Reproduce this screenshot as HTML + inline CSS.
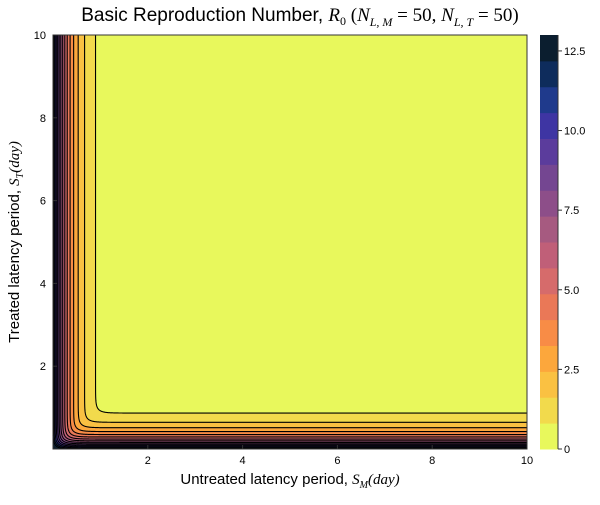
<!DOCTYPE html>
<html><head><meta charset="utf-8"><style>
body{margin:0;background:#fff;}
svg text{font-family:"Liberation Sans",sans-serif;}
.m{font-family:"Liberation Serif",serif;font-style:italic;}
</style></head><body>
<svg id="chart" width="600" height="500" xmlns="http://www.w3.org/2000/svg">
<text x="300" y="21" font-size="19" text-anchor="middle">Basic Reproduction Number, <tspan class="m">R</tspan><tspan font-size="12" dy="4" font-family="Liberation Serif">0</tspan><tspan dy="-4" font-family="Liberation Serif"> (</tspan><tspan class="m">N</tspan><tspan class="m" font-size="12" dy="5">L, M</tspan><tspan dy="-5" font-family="Liberation Serif"> = 50, </tspan><tspan class="m">N</tspan><tspan class="m" font-size="12" dy="5">L, T</tspan><tspan dy="-5" font-family="Liberation Serif"> = 50)</tspan></text>
<g id="plot"></g>
<g id="axes"></g>
<g id="cbar"></g>
<text x="290" y="484" font-size="15" text-anchor="middle">Untreated latency period, <tspan class="m">S</tspan><tspan class="m" font-size="10" dy="4">M</tspan><tspan dy="-4" class="m">(day)</tspan></text>
<text transform="translate(19,242) rotate(-90)" font-size="15" text-anchor="middle">Treated latency period, <tspan class="m">S</tspan><tspan class="m" font-size="10" dy="4">T</tspan><tspan dy="-4" class="m">(day)</tspan></text>
</svg>
<script>
const ampM = 12;
const decayM = 3.0;
const ampT = 12;
const decayT = 3.1;
const combineP = 3;
const levels = [0,0.8125,1.625,2.4375,3.25,4.0625,4.875,5.6875,6.5,7.3125,8.125,8.9375,9.75,10.5625,11.375,12.1875,13];
const colors = ["#e8f85c","#f2da4c","#fac142","#fca73c","#f88c46","#ea7857","#d66b6b","#c05f78","#a65a80","#8d4e89","#744691","#5b3c9c","#3e35a3","#1f3a8c","#0e2c5c","#0b1e2f"];
const xTicks = [2,4,6,8,10];
const yTicks = [2,4,6,8,10];
const cbTicks = [0,2.5,5,7.5,10,12.5];
const cbLabels = ["0","2.5","5.0","7.5","10.0","12.5"];

const NS="http://www.w3.org/2000/svg";
const X0=53,X1=527,Y0=449,Y1=35,xmax=10,ymax=10;
const sx=v=>X0+v/xmax*(X1-X0);
const sy=v=>Y0-v/ymax*(Y0-Y1);
const cy=v=>449-(v-levels[0])/(levels[levels.length-1]-levels[0])*(449-35);
function mk(t,a,p){const e=document.createElementNS(NS,t);for(const k in a)e.setAttribute(k,a[k]);p.appendChild(e);return e;}
const clamp=(v,a,b)=>Math.max(a,Math.min(b,v));
const plot=document.getElementById('plot');
const bg=mk('rect',{x:X0,y:Y1,width:X1-X0,height:Y0-Y1,fill:colors[0]},plot);


function fM(x){return ampM*Math.exp(-decayM*x);}
function curve(L){
  const pts=[];
  const xL=Math.max(0,Math.log(ampM/L)/decayM);
  if(Math.log(ampM/L)/decayM>0) pts.push([sx(xL),sy(ymax)]);
  for(let i=0;i<=400;i++){
    const u=i/400;
    const x=xL+(xmax-xL)*u*u*u;
    const r=Math.pow(L,combineP)-Math.pow(fM(x),combineP);
    if(r<=0) continue;
    const fy=Math.pow(r,1/combineP);
    const y=Math.log(ampT/fy)/decayT;
    pts.push([sx(x),sy(clamp(y,0,ymax))]);
  }
  return pts;
}
for(let i=1;i<levels.length-1;i++){
  const c=curve(levels[i]);
  if(c.length<2) continue;
  const s=c.map(p=>p[0].toFixed(2)+','+p[1].toFixed(2)).join(' L');
  const f=mk('path',{d:'M'+s+' L'+X1+','+Y0+' L'+X0+','+Y0+' L'+X0+','+c[0][1].toFixed(2)+'Z',fill:colors[i]},plot);
  
  
  const l=mk('path',{d:'M'+s,fill:'none',stroke:'#000','stroke-width':1.1},plot);
  
  
}
const ax=document.getElementById('axes');
const fr=mk('rect',{x:X0,y:Y1,width:X1-X0,height:Y0-Y1,fill:'none',stroke:'#333','stroke-width':1},ax);


xTicks.forEach(v=>{
  mk('line',{x1:sx(v),x2:sx(v),y1:Y0,y2:Y0-4,stroke:'#333'},ax);
  const t=mk('text',{x:sx(v),y:Y0+15,'font-size':11,'text-anchor':'middle'},ax);t.textContent=v;
  
  
});
yTicks.forEach(v=>{
  mk('line',{x1:X0,x2:X0+4,y1:sy(v),y2:sy(v),stroke:'#333'},ax);
  const t=mk('text',{x:X0-7,y:sy(v)+4,'font-size':11,'text-anchor':'end'},ax);t.textContent=v;
  
  
});
const cb=document.getElementById('cbar');
for(let i=0;i<colors.length;i++){
  const r=mk('rect',{x:540,y:cy(levels[i+1]),width:18,height:cy(levels[i])-cy(levels[i+1])+0.5,fill:colors[i]},cb);
  
  
}
mk('line',{x1:558,x2:558,y1:35,y2:449,stroke:'#333'},cb);
cbTicks.forEach((v,i)=>{
  mk('line',{x1:558,x2:562,y1:cy(v),y2:cy(v),stroke:'#333'},cb);
  const t=mk('text',{x:564,y:cy(v)+4,'font-size':11},cb);t.textContent=cbLabels[i];
  
  
});
</script>
</body></html>
